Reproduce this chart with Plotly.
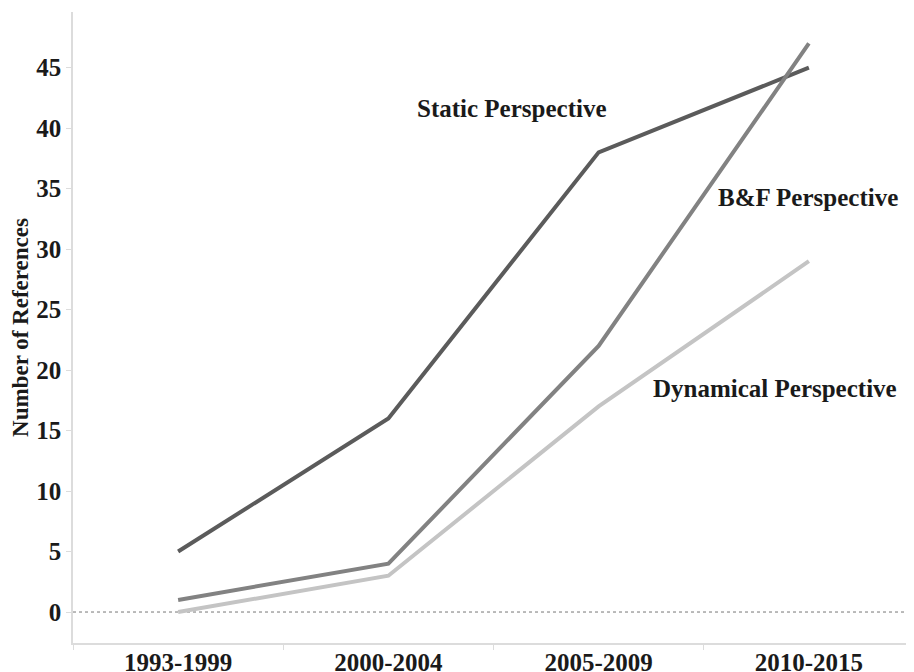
import plotly.graph_objects as go

periods = ["1993-1999", "2000-2004", "2005-2009", "2010-2015"]
static_vals = [5, 16, 38, 45]
bf_vals = [1, 4, 22, 47]
dyn_vals = [0, 3, 17, 29]
y_ticks = [0, 5, 10, 15, 20, 25, 30, 35, 40, 45]

FONT = "Liberation Serif"
TXT = "#1a1a1a"
SZ = 25
fig = go.Figure()
fig.add_trace(go.Scatter(x=periods, y=static_vals, mode="lines", name="Static Perspective",
                         line=dict(color="#5b5b5b", width=4)))
fig.add_trace(go.Scatter(x=periods, y=bf_vals, mode="lines", name="B&F Perspective",
                         line=dict(color="#828282", width=4)))
fig.add_trace(go.Scatter(x=periods, y=dyn_vals, mode="lines", name="Dynamical Perspective",
                         line=dict(color="#c4c4c4", width=4)))

fig.add_shape(type="line", xref="paper", x0=0, x1=1, yref="y", y0=0, y1=0,
              line=dict(color="#777777", width=1, dash="dot"), layer="below")

ann_font = dict(family=FONT, size=SZ, color=TXT, weight="bold")
for text, xp, yv in [("Static Perspective", 0.522, 41.6),
                     ("B&F Perspective", 0.874, 34.3),
                     ("Dynamical Perspective", 0.835, 18.5)]:
    fig.add_annotation(text=text, xref="paper", yref="y", x=xp, y=yv,
                       showarrow=False, font=ann_font, xanchor="center", yanchor="middle")

# page body adds an 8px offset; margins compensate so the plot lands where the reference has it
fig.update_layout(
    width=914, height=672,
    margin=dict(l=65, r=8, t=4, b=37),
    plot_bgcolor="white", paper_bgcolor="white",
    showlegend=False,
    font=dict(family=FONT, size=SZ, color=TXT),
)
fig.update_xaxes(
    type="category", range=[-0.5, 3.5],
    showgrid=False, zeroline=False, automargin=False,
    showline=True, linecolor="#dcdcdc", linewidth=1.5,
    ticks="outside", tickson="boundaries", ticklen=5, tickcolor="#dcdcdc",
    tickfont=dict(family=FONT, size=SZ, color=TXT, weight="bold"),
    ticklabelstandoff=-4,
)
fig.update_yaxes(
    range=[-2.56, 49.6],
    tickvals=y_ticks,
    showgrid=False, zeroline=False, automargin=False,
    showline=True, linecolor="#dcdcdc", linewidth=1.5,
    ticks="outside", ticklen=5, tickcolor="#dcdcdc",
    tickfont=dict(family=FONT, size=SZ, color=TXT, weight="bold"),
    title=dict(text="Number of References", font=dict(family=FONT, size=23, color=TXT, weight="bold"),
               standoff=7),
)

fig.write_html("out.html")
